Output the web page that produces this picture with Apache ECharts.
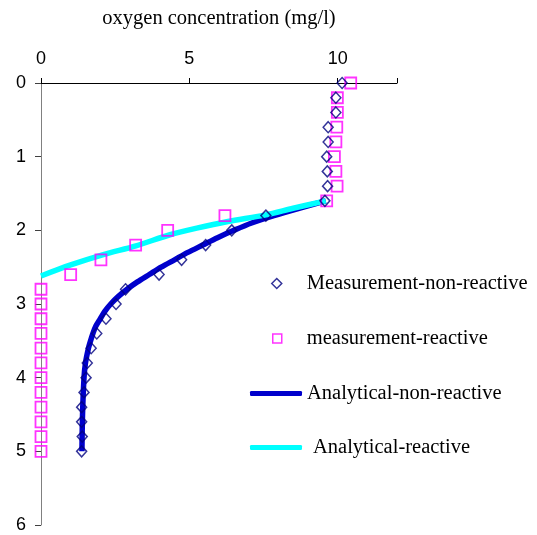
<!DOCTYPE html>
<html>
<head>
<meta charset="utf-8">
<script src="https://cdn.jsdelivr.net/npm/echarts@6/dist/echarts.min.js"></script>
<style>html,body{margin:0;padding:0;background:#fff}#c{width:537px;height:535px}</style>
</head>
<body>
<div id="c"></div>
<script>
// Measured depths (m) and oxygen concentrations (mg/l)
const measDepths = [0,0.2,0.4,0.6,0.8,1.0,1.2,1.4,1.6,1.8,2.0,2.2,2.4,2.6,2.8,3.0,3.2,3.4,3.6,3.8,4.0,4.2,4.4,4.6,4.8,5.0];
const measNonReactive = [10.15,9.94,9.94,9.68,9.68,9.63,9.65,9.66,9.57,7.58,6.43,5.55,4.74,3.98,2.85,2.53,2.19,1.88,1.69,1.56,1.52,1.45,1.37,1.37,1.39,1.37];
const measReactive = [10.44,9.99,9.99,9.97,9.94,9.89,9.94,9.98,9.63,6.2,4.27,3.19,2.02,1.0,0,0,0,0,0,0,0,0,0,0,0,0];

// Analytical curves
const anaNonDepths = [1.6,1.7,1.8,1.9,2.0,2.1,2.2,2.3,2.4,2.5,2.6,2.7,2.8,2.9,3.0,3.1,3.2,3.3,3.4,3.5,3.6,3.8,4.0,4.5,5.0];
const anaNonValues = [9.6,8.7,7.85,7.1,6.5,5.95,5.45,4.95,4.5,4.05,3.65,3.25,2.9,2.6,2.35,2.15,2.0,1.85,1.75,1.67,1.6,1.5,1.45,1.4,1.38];
const anaReDepths = [1.6,1.7,1.79,1.88,1.97,2.06,2.21,2.33,2.47,2.62];
const anaReValues = [9.6,8.5,7.58,6.3,5.25,4.35,3.2,2.1,1.0,0];

const names = ['Measurement-non-reactive','measurement-reactive','Analytical-non-reactive','Analytical-reactive'];
const xTicks = [0,5,10];

const zip = (xs, ys) => xs.map((x,i)=>[x, ys[i]]);
const serif = 'Liberation Serif';
const sans = 'Liberation Sans';
const serifSize = 20.5;

const chart = echarts.init(document.getElementById('c'));
const legendBase = {orient:'vertical', selectedMode:false, padding:0, textStyle:{fontFamily:serif, fontSize:serifSize, color:'#000'}};
chart.setOption({
  animation:false,
  backgroundColor:'#fff',
  grid:{left:41, right:140, top:83, bottom:10},
  xAxis:{
    type:'value', position:'top', min:0, max:12, interval:5,
    name:'oxygen concentration (mg/l)', nameLocation:'middle', nameGap:54,
    nameTextStyle:{fontFamily:serif, fontSize:serifSize, color:'#000'},
    axisLine:{show:true, lineStyle:{color:'#000', width:1}},
    axisTick:{show:true, length:5, lineStyle:{color:'#000'}},
    axisLabel:{margin:15, fontFamily:sans, fontSize:18, color:'#000',
      formatter: v => xTicks.indexOf(v) >= 0 ? String(v) : ''},
    splitLine:{show:false}
  },
  yAxis:{
    type:'value', inverse:true, min:0, max:6, interval:1,
    axisLine:{show:true, lineStyle:{color:'#808080', width:1}},
    axisTick:{show:true, length:6, lineStyle:{color:'#404040'}},
    axisLabel:{margin:15, fontFamily:sans, fontSize:18, color:'#000'},
    splitLine:{show:false}
  },
  legend:[
    Object.assign({}, legendBase, {data:[{name:names[0], icon:'diamond'}], left:271, top:273, itemWidth:10, itemHeight:10,
      itemStyle:{color:'#fff', borderColor:'#000080', borderWidth:1.5},
      textStyle:Object.assign({}, legendBase.textStyle, {padding:[0,0,0,20]})}),
    Object.assign({}, legendBase, {data:[{name:names[1], icon:'rect'}], left:272, top:328, itemWidth:9, itemHeight:9,
      itemStyle:{color:'#fff', borderColor:'#FF00FF', borderWidth:1.5},
      textStyle:Object.assign({}, legendBase.textStyle, {padding:[0,0,0,20]})}),
    Object.assign({}, legendBase, {data:[{name:names[2], icon:'roundRect'}], left:250, top:383, itemWidth:52, itemHeight:5,
      itemStyle:{color:'#0000CC', borderWidth:0}}),
    Object.assign({}, legendBase, {data:[{name:names[3], icon:'roundRect'}], left:250, top:437, itemWidth:52, itemHeight:5,
      itemStyle:{color:'#00FFFF', borderWidth:0},
      textStyle:Object.assign({}, legendBase.textStyle, {padding:[0,0,0,6]})})
  ],
  series:[
    {name:names[2], type:'line', data:zip(anaNonValues, anaNonDepths), showSymbol:false, smooth:0.3,
      lineStyle:{color:'#0000CC', width:5.5}, itemStyle:{color:'#0000CC'}, z:2},
    {name:names[3], type:'line', data:zip(anaReValues, anaReDepths), showSymbol:false, smooth:0.3,
      lineStyle:{color:'#00FFFF', width:5.5}, itemStyle:{color:'#00FFFF'}, z:2},
    {name:names[0], type:'scatter', data:zip(measNonReactive, measDepths), symbol:'diamond', symbolSize:[10,11],
      itemStyle:{color:'rgba(0,0,0,0)', borderColor:'#000080', borderWidth:1.5}, z:4},
    {name:names[1], type:'scatter', data:zip(measReactive, measDepths), symbol:'rect', symbolSize:11,
      itemStyle:{color:'rgba(0,0,0,0)', borderColor:'#FF00FF', borderWidth:1.8}, z:3}
  ]
});
</script>
</body>
</html>
